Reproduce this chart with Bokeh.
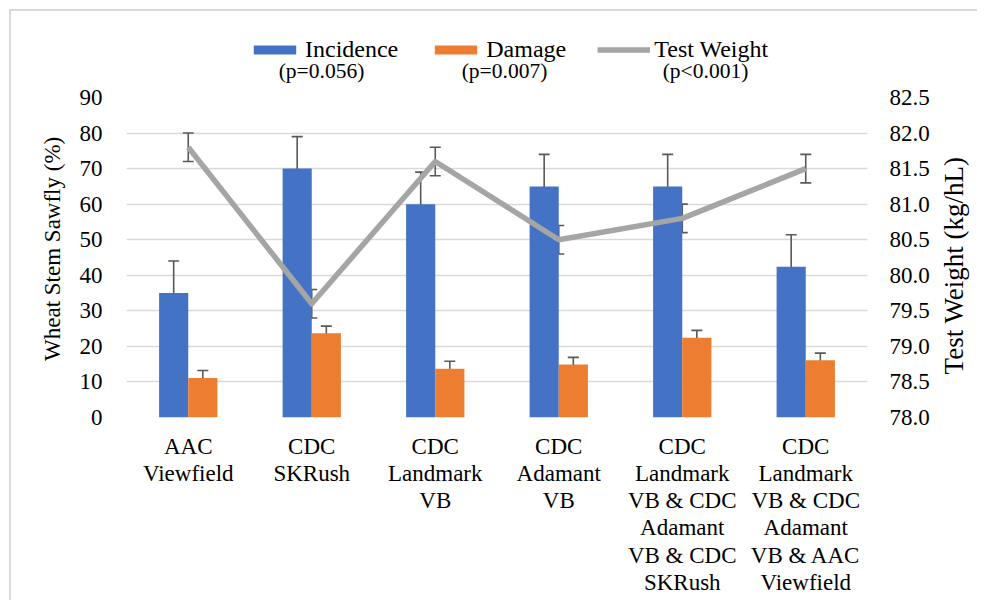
import math
from bokeh.plotting import figure
from bokeh.layouts import column, row
from bokeh.models import (Range1d, LinearAxis, FixedTicker, Whisker, TeeHead,
                          ColumnDataSource, Legend, LegendItem, Label)
from bokeh.embed import file_html
from bokeh.resources import INLINE

categories = ["AAC\nViewfield", "CDC\nSKRush", "CDC\nLandmark\nVB", "CDC\nAdamant\nVB",
              "CDC\nLandmark\nVB & CDC\nAdamant\nVB & CDC\nSKRush",
              "CDC\nLandmark\nVB & CDC\nAdamant\nVB & AAC\nViewfield"]
incidence = [35.0, 70.0, 60.0, 65.0, 65.0, 42.4]
incidence_err = [9.0, 9.0, 9.0, 9.0, 9.0, 9.0]
damage = [11.1, 23.7, 13.7, 14.9, 22.4, 16.1]
damage_err = [2.1, 2.0, 2.1, 2.0, 2.1, 2.0]
test_weight = [81.8, 79.6, 81.6, 80.5, 80.8, 81.5]
test_weight_err = [0.2, 0.2, 0.2, 0.2, 0.2, 0.2]
series_names = ["Incidence", "Damage", "Test Weight"]
p_values = ["(p=0.056)", "(p=0.007)", "(p<0.001)"]
left_ticks = [0, 10, 20, 30, 40, 50, 60, 70, 80, 90]
right_ticks = [78.0, 78.5, 79.0, 79.5, 80.0, 80.5, 81.0, 81.5, 82.0, 82.5]
left_title = "Wheat Stem Sawfly (%)"
right_title = "Test Weight (kg/hL)"

FONT = "Liberation Serif"
BLUE, ORANGE, GRAY, EB = "#4472C4", "#ED7D31", "#A5A5A5", "#595959"
BW = 0.236
n = len(categories)
centers = [i + 0.5 for i in range(n)]
x_inc = [c - BW / 2 for c in centers]
x_dam = [c + BW / 2 for c in centers]

src = ColumnDataSource(dict(
    xc=centers, xi=x_inc, xd=x_dam,
    inc=incidence, inc_lo=[v - e for v, e in zip(incidence, incidence_err)],
    inc_hi=[v + e for v, e in zip(incidence, incidence_err)],
    dam=damage, dam_lo=[v - e for v, e in zip(damage, damage_err)],
    dam_hi=[v + e for v, e in zip(damage, damage_err)],
    tw=test_weight, tw_lo=[v - e for v, e in zip(test_weight, test_weight_err)],
    tw_hi=[v + e for v, e in zip(test_weight, test_weight_err)],
))

TOTAL_H = 600
WM = 937          # width of header and main chart
WS = 40           # width of the right-title strip
HH = 83
MAIN_H = TOTAL_H - HH
FL = 126
FW, FH = 741, 320
TOP = 14

def blank(fig):
    fig.axis.visible = False
    fig.grid.visible = False
    fig.outline_line_color = None
    fig.border_fill_color = None
    fig.background_fill_color = None

# ---------------- header with legend ----------------
hdr = figure(output_backend="svg", toolbar_location=None, width=WM, height=HH,
             x_range=Range1d(0, 1), y_range=Range1d(0, 1),
             min_border_left=FL, min_border_right=WM - FL - FW,
             min_border_top=0, min_border_bottom=0)
blank(hdr)
# off-range placeholder glyphs so that the legend can draw its swatches
d_inc = hdr.vbar(x=[-10], top=[-10], width=1, fill_color=BLUE, line_color=None)
d_dam = hdr.vbar(x=[-10], top=[-10], width=1, fill_color=ORANGE, line_color=None)
d_tw = hdr.line(x=[-10, -11], y=[-10, -10], line_color=GRAY, line_width=5.5)
legend = Legend(items=[LegendItem(label=series_names[0], renderers=[d_inc]),
                       LegendItem(label=series_names[1], renderers=[d_dam]),
                       LegendItem(label=series_names[2], renderers=[d_tw])],
                orientation="horizontal", location=(122, 20),
                padding=0, margin=0, spacing=31, label_standoff=4,
                glyph_width=53, glyph_height=11, label_height=28,
                label_text_font=FONT, label_text_font_size="24px",
                label_text_color="black",
                background_fill_alpha=0, border_line_color=None)
hdr.add_layout(legend, "center")
for px, txt in zip([195, 378, 579], p_values):
    hdr.add_layout(Label(x=px, y=13, x_units="screen", y_units="screen", text=txt,
                         text_font=FONT, text_font_size="21.5px", text_color="black",
                         text_align="center", text_baseline="middle"))

# ---------------- main chart ----------------
p = figure(output_backend="svg", toolbar_location=None,
           frame_width=FW, frame_height=FH,
           x_range=Range1d(0, n), y_range=Range1d(0, 90))
p.min_border_left = FL
p.min_border_right = WM - FL - FW
p.min_border_top = TOP
p.min_border_bottom = MAIN_H - TOP - FH
p.outline_line_color = None
p.border_fill_color = None
p.background_fill_color = None
p.extra_y_ranges = {"tw": Range1d(78.0, 82.5)}

p.vbar(x="xi", top="inc", bottom=0, width=BW, source=src,
       fill_color=BLUE, line_color=None)
p.vbar(x="xd", top="dam", bottom=0, width=BW, source=src,
       fill_color=ORANGE, line_color=None)

def whisker(base, lo, hi, **kw):
    return Whisker(base=base, lower=lo, upper=hi, source=src, dimension="height",
                   line_color=EB, line_width=1.6,
                   upper_head=TeeHead(size=11, line_color=EB, line_width=1.6),
                   lower_head=TeeHead(size=11, line_color=EB, line_width=1.6), **kw)

p.add_layout(whisker("xi", "inc_lo", "inc_hi"))
p.add_layout(whisker("xd", "dam_lo", "dam_hi"))

p.line(x="xc", y="tw", source=src, y_range_name="tw",
       line_color=GRAY, line_width=5.5, line_join="round")
p.add_layout(whisker("xc", "tw_lo", "tw_hi", y_range_name="tw"))

p.xaxis.ticker = FixedTicker(ticks=centers)
p.xaxis.major_label_overrides = {c: lab for c, lab in zip(centers, categories)}
p.yaxis.ticker = FixedTicker(ticks=left_ticks)
p.yaxis.axis_label = "\u00a0" * 3 + left_title

ax_r = LinearAxis(y_range_name="tw", ticker=FixedTicker(ticks=right_ticks))
ax_r.major_label_overrides = {t: f"{t:.1f}" for t in right_ticks}
p.add_layout(ax_r, "right")

for ax in (p.xaxis[0], p.yaxis[0], ax_r):
    ax.axis_line_color = None
    ax.major_tick_line_color = None
    ax.minor_tick_line_color = None
    ax.major_label_text_font = FONT
    ax.major_label_text_font_size = "23px"
    ax.major_label_text_color = "black"
    ax.axis_label_text_font = FONT
    ax.axis_label_text_font_style = "normal"
    ax.axis_label_text_color = "black"
p.yaxis.axis_label_text_font_size = "23px"
p.xaxis.major_label_text_line_height = 1.09
p.xaxis.major_label_standoff = 10
p.yaxis.major_label_standoff = 18
ax_r.major_label_standoff = 16
p.yaxis.axis_label_standoff = 12

p.xgrid.grid_line_color = None
p.ygrid.ticker = FixedTicker(ticks=left_ticks)
p.ygrid.grid_line_color = "#D9D9D9"
p.ygrid.grid_line_width = 1.5

# ---------------- right title strip (reads bottom to top) ----------------
side = figure(output_backend="svg", toolbar_location=None, width=WS, height=TOTAL_H,
              x_range=Range1d(0, 1), y_range=Range1d(0, 1),
              min_border_left=0, min_border_right=0,
              min_border_top=HH + TOP, min_border_bottom=TOTAL_H - HH - TOP - FH)
blank(side)
side.add_layout(Label(x=16, y=152, x_units="screen", y_units="screen", text=right_title,
                      angle=math.pi / 2, text_font=FONT, text_font_size="27px",
                      text_color="black", text_align="center", text_baseline="middle"))

layout = row(column(hdr, p, spacing=0), side, spacing=0)
layout.styles = {"box-shadow": "inset 9px 9px 0 0 white, inset 11px 11px 0 0 #d9d9d9",
                 "background": "white"}

open("out.html", "w").write(file_html(layout, INLINE))
